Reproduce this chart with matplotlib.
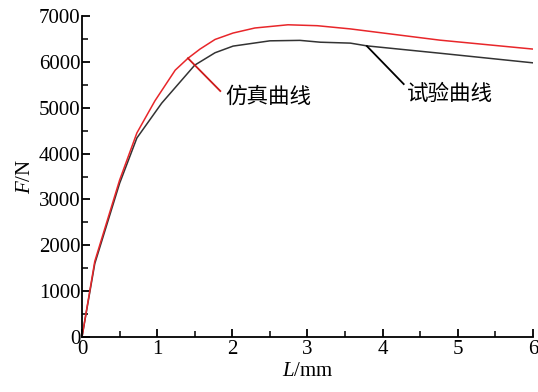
import matplotlib
matplotlib.use("Agg")
import matplotlib.pyplot as plt
from matplotlib.ticker import MultipleLocator

plt.rcParams['font.family'] = ['Liberation Serif', 'DejaVu Serif']
plt.rcParams['mathtext.fontset'] = 'custom'
plt.rcParams['mathtext.rm'] = 'Liberation Serif'
plt.rcParams['mathtext.it'] = 'Liberation Serif:italic'

# Simulation curve (red)
sim_L = [0, 0.17, 0.5, 0.73, 0.97, 1.24, 1.41, 1.57, 1.77, 2.01, 2.30, 2.74, 3.13, 3.57, 4.76, 6.0]
sim_F = [0, 1650, 3420, 4450, 5150, 5820, 6080, 6280, 6490, 6630, 6740, 6810, 6790, 6720, 6475, 6280]

# Test curve (black)
test_L = [0, 0.17, 0.5, 0.73, 1.06, 1.5, 1.77, 2.01, 2.5, 2.9, 3.17, 3.57, 3.79, 4.76, 6.0]
test_F = [0, 1600, 3350, 4340, 5100, 5930, 6200, 6345, 6460, 6470, 6430, 6410, 6350, 6190, 5980]

sim_label = '仿真曲线'
test_label = '试验曲线'

fig = plt.figure(figsize=(5.38, 3.92), dpi=100)
ax = fig.add_axes([0.1524, 0.1403, 0.8383, 0.8187])

ax.plot(test_L, test_F, color='#333333', lw=1.1)
ax.plot(sim_L, sim_F, color='#e8262a', lw=1.1)

# annotation leaders
ax.plot([1.41, 1.84], [6080, 5365], color='#cc1a1a', lw=1.3)
ax.plot([3.79, 4.28], [6345, 5517], color='black', lw=1.3)
cjk = ['Noto Sans CJK SC', 'DejaVu Sans']
ax.text(1.90, 5230, sim_label, ha='left', va='center', fontsize=15.5, family=cjk)
ax.text(4.32, 5300, test_label, ha='left', va='center', fontsize=15.5, family=cjk)

ax.set_xlim(0, 6)
ax.set_ylim(0, 7000)
ax.xaxis.set_major_locator(MultipleLocator(1))
ax.xaxis.set_minor_locator(MultipleLocator(0.5))
ax.yaxis.set_major_locator(MultipleLocator(1000))
ax.yaxis.set_minor_locator(MultipleLocator(500))

for s in ['top', 'right']:
    ax.spines[s].set_visible(False)
for s in ['left', 'bottom']:
    ax.spines[s].set_linewidth(1.3)

ax.tick_params(which='major', direction='in', length=6, width=1.3, labelsize=15, pad=2)
ax.tick_params(which='minor', direction='in', length=4, width=1.1)
ax.tick_params(axis='y', which='major', pad=1)

ax.set_xlabel('$L$/mm', fontsize=15, labelpad=2)
ax.set_ylabel('$F$/N', fontsize=15, labelpad=3)

fig.savefig('out.png', dpi=100)
